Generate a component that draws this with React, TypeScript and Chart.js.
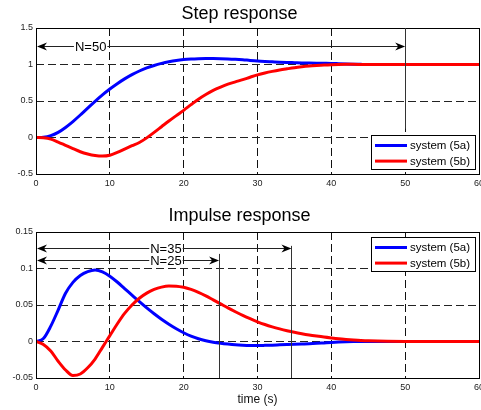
import React, { useEffect, useRef } from 'react';
import { Chart, registerables } from 'chart.js';

Chart.register(...registerables);

const FONT = '"Liberation Sans", Arial, Helvetica, sans-serif';

// time axis (s)
const timeS = [
  0, 1, 2, 3, 4, 5, 6, 7, 8, 9, 10, 11, 12, 13, 14, 15, 16, 17, 18, 19, 20,
  21, 22, 23, 24, 25, 26, 27, 28, 29, 30, 31, 32, 33, 34, 35, 36, 37, 38, 39, 40,
  41, 42, 43, 44, 45, 50, 55, 60,
];

const stepA = [
  0, 0.004, 0.025, 0.07, 0.138, 0.218, 0.308, 0.403, 0.496, 0.584, 0.664,
  0.737, 0.803, 0.861, 0.911, 0.953, 0.987, 1.015, 1.038, 1.056, 1.068,
  1.075, 1.079, 1.081, 1.081, 1.08, 1.077, 1.072, 1.065, 1.056, 1.048,
  1.042, 1.037, 1.032, 1.028, 1.025, 1.022, 1.02, 1.018, 1.016, 1.014,
  1.011, 1.008, 1.005, 1.002, 1.0, 1.0, 1.0, 1.0,
];

const stepB = [
  0, -0.004, -0.022, -0.062, -0.107, -0.152, -0.195, -0.226, -0.247, -0.255, -0.243,
  -0.205, -0.158, -0.112, -0.068, -0.005, 0.07, 0.148, 0.226, 0.3, 0.372,
  0.45, 0.525, 0.59, 0.645, 0.69, 0.73, 0.762, 0.792, 0.826, 0.858,
  0.884, 0.906, 0.925, 0.941, 0.956, 0.968, 0.978, 0.986, 0.993, 0.998,
  1.001, 1.002, 1.002, 1.001, 1.0, 1.0, 1.0, 1.0,
];

const impulseA = [
  0, 0.004, 0.021, 0.043, 0.066, 0.081, 0.0905, 0.0958, 0.098, 0.0955, 0.0895,
  0.0815, 0.0725, 0.0635, 0.0545, 0.046, 0.038, 0.0305, 0.0237, 0.0175, 0.012,
  0.0073, 0.0037, 0.001, -0.001, -0.0024, -0.0035, -0.0044, -0.005, -0.0054, -0.0055,
  -0.0053, -0.005, -0.0046, -0.0042, -0.0038, -0.0034, -0.003, -0.0025, -0.0019, -0.0013,
  -0.0008, -0.0004, -0.0001, 0, 0, 0, 0, 0,
];

const impulseB = [
  0, -0.004, -0.013, -0.027, -0.039, -0.0465, -0.0445, -0.036, -0.024, -0.008, 0.008,
  0.024, 0.0385, 0.05, 0.0593, 0.0663, 0.0713, 0.0745, 0.076, 0.0758, 0.0742,
  0.0713, 0.0673, 0.0625, 0.057, 0.0515, 0.046, 0.0408, 0.0358, 0.0312, 0.027,
  0.0233, 0.0201, 0.0173, 0.0148, 0.0126, 0.0107, 0.009, 0.0075, 0.0061, 0.0049,
  0.0038, 0.0029, 0.0021, 0.0014, 0.0009, 0, 0, 0,
];

const seriesLabels = ['system (5a)', 'system (5b)'];
const seriesColors = ['#0000ff', '#ff0000'];

const xTicks = [0, 10, 20, 30, 40, 50, 60];
const stepYTicks = [-0.5, 0, 0.5, 1, 1.5];
const impulseYTicks = [-0.05, 0, 0.05, 0.1, 0.15];

const stepTitle = 'Step response';
const impulseTitle = 'Impulse response';
const xAxisTitle = 'time (s)';

// horizon annotations: arrow from 0 to `end` at height `y`, label placed at `textX`
const stepMarks = [
  { label: 'N=50', end: 50, y: 1.25, textX: 7.4, lineTop: 1.5, lineBottom: 0.12 },
];
const impulseMarks = [
  { label: 'N=35', end: 34.6, y: 0.128, textX: 17.6, lineTop: 0.131, lineBottom: -0.05 },
  { label: 'N=25', end: 24.8, y: 0.111, textX: 17.6, lineTop: 0.12, lineBottom: -0.05 },
];

type Mark = { label: string; end: number; y: number; textX: number; lineTop: number; lineBottom: number };

function arrowHead(ctx: CanvasRenderingContext2D, tipX: number, y: number, dir: number) {
  const L = 10;
  const W = 4;
  const notch = 3;
  ctx.beginPath();
  ctx.moveTo(tipX, y);
  ctx.lineTo(tipX - dir * L, y - W);
  ctx.lineTo(tipX - dir * (L - notch), y);
  ctx.lineTo(tipX - dir * L, y + W);
  ctx.closePath();
  ctx.fill();
}

function makeDecor(marks: Mark[], legendAt: 'top' | 'bottom') {
  return {
    id: 'decor',
    afterDatasetsDraw(chart: any) {
      const { ctx, chartArea: a, scales } = chart;
      const xs = scales.x;
      const ys = scales.y;
      ctx.save();
      // axes box
      ctx.setLineDash([]);
      ctx.strokeStyle = '#000';
      ctx.lineWidth = 1;
      const l = Math.round(a.left) + 0.5;
      const r = Math.round(a.right) + 0.5;
      const t = Math.round(a.top) + 0.5;
      const b = Math.round(a.bottom) + 0.5;
      ctx.strokeRect(l, t, r - l, b - t);

      // annotations
      ctx.font = `13px ${FONT}`;
      ctx.textAlign = 'center';
      ctx.textBaseline = 'middle';
      for (const m of marks) {
        const px0 = xs.getPixelForValue(0);
        const px1 = xs.getPixelForValue(m.end);
        const py = Math.round(ys.getPixelForValue(m.y)) + 0.5;
        const vx = Math.round(px1) + 0.5;
        ctx.strokeStyle = '#333';
        ctx.beginPath();
        ctx.moveTo(vx, ys.getPixelForValue(m.lineTop));
        ctx.lineTo(vx, ys.getPixelForValue(m.lineBottom));
        ctx.stroke();
        ctx.strokeStyle = '#222';
        ctx.beginPath();
        ctx.moveTo(px0 + 4, py);
        ctx.lineTo(px1 - 4, py);
        ctx.stroke();
        ctx.fillStyle = '#000';
        arrowHead(ctx, px0 + 1, py, -1);
        arrowHead(ctx, px1, py, 1);
        const tx = xs.getPixelForValue(m.textX);
        const tw = ctx.measureText(m.label).width;
        ctx.fillStyle = '#fff';
        ctx.fillRect(tx - tw / 2 - 1, py - 6, tw + 2, 12);
        ctx.fillStyle = '#000';
        ctx.fillText(m.label, tx, py + 0.5);
      }

      // legend
      ctx.font = `11.5px ${FONT}`;
      ctx.textAlign = 'left';
      const textW = Math.max(...seriesLabels.map((s) => ctx.measureText(s).width));
      const boxW = Math.round(3.5 + 32 + 3.5 + textW + 4.5);
      const boxH = 34;
      const bx = Math.round(a.right - 4.5 - boxW) + 0.5;
      const by = legendAt === 'top'
        ? Math.round(a.top + 4.5) + 0.5
        : Math.round(a.bottom - 5.5 - boxH) + 0.5;
      ctx.fillStyle = '#fff';
      ctx.fillRect(bx, by, boxW, boxH);
      ctx.strokeStyle = '#000';
      ctx.lineWidth = 1;
      ctx.strokeRect(bx, by, boxW, boxH);
      seriesLabels.forEach((s, i) => {
        const ry = by + 10 + i * 15.6;
        ctx.strokeStyle = seriesColors[i];
        ctx.lineWidth = 3;
        ctx.beginPath();
        ctx.moveTo(bx + 3.5, ry);
        ctx.lineTo(bx + 35.5, ry);
        ctx.stroke();
        ctx.fillStyle = '#000';
        ctx.fillText(s, bx + 38.5, ry + 0.5);
      });
      ctx.restore();
    },
  };
}

function buildConfig(opts: {
  a: number[];
  b: number[];
  yTicks: number[];
  title: string;
  titlePad: { top: number; bottom: number };
  xHeight: number;
  xTitle?: string;
  marks: Mark[];
  legendAt: 'top' | 'bottom';
}) {
  const mk = (vals: number[]) => timeS.map((t, i) => ({ x: t, y: vals[i] }));
  const yMin = opts.yTicks[0];
  const yMax = opts.yTicks[opts.yTicks.length - 1];
  return {
    type: 'line' as const,
    data: {
      datasets: [
        {
          label: seriesLabels[0],
          data: mk(opts.a),
          borderColor: seriesColors[0],
          backgroundColor: seriesColors[0],
          borderWidth: 3,
          pointRadius: 0,
          cubicInterpolationMode: 'monotone' as const,
          order: 1,
        },
        {
          label: seriesLabels[1],
          data: mk(opts.b),
          borderColor: seriesColors[1],
          backgroundColor: seriesColors[1],
          borderWidth: 3,
          pointRadius: 0,
          cubicInterpolationMode: 'monotone' as const,
          order: 0,
        },
      ],
    },
    options: {
      responsive: false,
      animation: false as const,
      devicePixelRatio: 1,
      layout: { padding: { left: 0, right: 2, top: 0, bottom: 0 } },
      plugins: {
        legend: { display: false },
        tooltip: { enabled: false },
        title: {
          display: true,
          text: opts.title,
          color: '#000',
          font: { size: 18, family: FONT, weight: 'normal' as const },
          padding: opts.titlePad,
        },
      },
      scales: {
        x: {
          type: 'linear' as const,
          min: 0,
          max: 60,
          afterBuildTicks: (s: any) => {
            s.ticks = xTicks.map((v) => ({ value: v }));
          },
          afterFit: (s: any) => {
            s.height = opts.xHeight;
            s.paddingLeft = 0;
            s.paddingRight = 0;
          },
          grid: { color: '#111', lineWidth: 1, drawTicks: false },
          border: { display: false, dash: [8, 4] },
          ticks: {
            padding: 4,
            autoSkip: false,
            maxRotation: 0,
            color: '#222',
            font: { size: 9, family: FONT },
            callback: (v: any) => String(v),
          },
          title: opts.xTitle
            ? {
                display: true,
                text: opts.xTitle,
                color: '#111',
                font: { size: 12, family: FONT },
                padding: { top: 0, bottom: 3 },
              }
            : { display: false },
        },
        y: {
          type: 'linear' as const,
          min: yMin,
          max: yMax,
          afterBuildTicks: (s: any) => {
            s.ticks = opts.yTicks.map((v) => ({ value: v }));
          },
          afterFit: (s: any) => {
            s.width = 36;
            s.paddingTop = 0;
            s.paddingBottom = 0;
          },
          grid: { color: '#222', lineWidth: 1, drawTicks: false },
          border: { display: false, dash: [8, 4] },
          ticks: {
            padding: 3,
            autoSkip: false,
            color: '#222',
            font: { size: 9, family: FONT },
            callback: (v: any) => String(v),
          },
        },
      },
    },
    plugins: [makeDecor(opts.marks, opts.legendAt)],
  };
}

export default function App() {
  const topRef = useRef<HTMLCanvasElement>(null);
  const botRef = useRef<HTMLCanvasElement>(null);

  useEffect(() => {
    const c1 = new Chart(
      topRef.current as HTMLCanvasElement,
      buildConfig({
        a: stepA,
        b: stepB,
        yTicks: stepYTicks,
        title: stepTitle,
        titlePad: { top: 3, bottom: 3.4 },
        xHeight: 21,
        marks: stepMarks,
        legendAt: 'bottom',
      }) as any
    );
    const c2 = new Chart(
      botRef.current as HTMLCanvasElement,
      buildConfig({
        a: impulseA,
        b: impulseB,
        yTicks: impulseYTicks,
        title: impulseTitle,
        titlePad: { top: 10.2, bottom: 5.2 },
        xHeight: 32,
        xTitle: xAxisTitle,
        marks: impulseMarks,
        legendAt: 'top',
      }) as any
    );
    return () => {
      c1.destroy();
      c2.destroy();
    };
  }, []);

  return (
    <div
      style={{
        position: 'absolute',
        left: 0,
        top: 0,
        width: 481,
        height: 410,
        overflow: 'hidden',
        background: '#fff',
      }}
    >
      <canvas
        ref={topRef}
        width={481}
        height={195}
        style={{ position: 'absolute', left: 0, top: 0, width: 481, height: 195 }}
      />
      <canvas
        ref={botRef}
        width={481}
        height={215}
        style={{ position: 'absolute', left: 0, top: 195, width: 481, height: 215 }}
      />
    </div>
  );
}
